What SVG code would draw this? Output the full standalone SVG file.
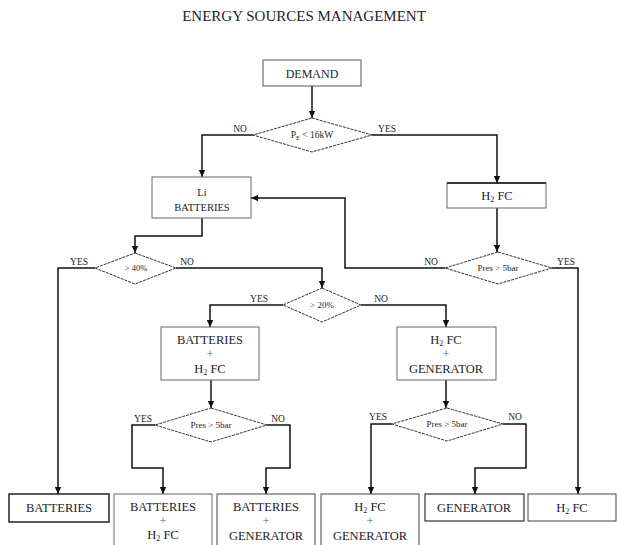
<svg xmlns="http://www.w3.org/2000/svg" width="617" height="545" viewBox="0 0 617 545" font-family="'Liberation Serif','DejaVu Serif',serif">
<style>
text{font-family:'Liberation Serif','DejaVu Serif','Times New Roman',serif;fill:#1c1c2c;text-anchor:middle}
.box{fill:#fff;stroke:#666;stroke-width:1}
.dark{stroke:#222;stroke-width:1.5}
.dia{fill:#fff;stroke:#333;stroke-width:1;stroke-dasharray:3 1}
.con{fill:none;stroke:#111;stroke-width:1.5}
.t{font-size:12.5px}
.s{font-size:10.5px}
.d{font-size:9.5px}
.l{font-size:9.5px}
.p{fill:#667}
</style>
<defs>
<marker id="arr" markerUnits="userSpaceOnUse" markerWidth="8" markerHeight="8" refX="7" refY="4" orient="auto">
<path d="M0,0.8 L7,4 L0,7.2 Z" fill="#111"/>
</marker>
</defs>
<rect width="617" height="545" fill="#fff"/>
<text x="304" y="21" style="font-size:15px">ENERGY SOURCES MANAGEMENT</text>

<g id="connectors">
<path class="con" marker-end="url(#arr)" d="M312,86 V118"/>
<path class="con" marker-end="url(#arr)" d="M253,135 H202 V177"/>
<path class="con" marker-end="url(#arr)" d="M372,135 H497 V183"/>
<path class="con" marker-end="url(#arr)" d="M497,208 V252"/>
<path class="con" marker-end="url(#arr)" d="M445,268 H345 V198 H251"/>
<path class="con" marker-end="url(#arr)" d="M552,268 H578 V494"/>
<path class="con" marker-end="url(#arr)" d="M202,218 V236 H135 V253"/>
<path class="con" marker-end="url(#arr)" d="M95,268 H58 V494"/>
<path class="con" marker-end="url(#arr)" d="M176,268 H322 V288"/>
<path class="con" marker-end="url(#arr)" d="M283,305 H210 V327"/>
<path class="con" marker-end="url(#arr)" d="M361,305 H446 V327"/>
<path class="con" marker-end="url(#arr)" d="M211,380 V408"/>
<path class="con" marker-end="url(#arr)" d="M155,425 H132 V468 H163 V494"/>
<path class="con" marker-end="url(#arr)" d="M267,425 H290 V468 H266 V494"/>
<path class="con" marker-end="url(#arr)" d="M446,380 V408"/>
<path class="con" marker-end="url(#arr)" d="M392,424 H371 V494"/>
<path class="con" marker-end="url(#arr)" d="M503,424 H526 V468 H475 V494"/>
<text class="l" x="240" y="132">NO</text>
<text class="l" x="387" y="132">YES</text>
<text class="l" x="431" y="265">NO</text>
<text class="l" x="566" y="265">YES</text>
<text class="l" x="79" y="265">YES</text>
<text class="l" x="187" y="265">NO</text>
<text class="l" x="259" y="302">YES</text>
<text class="l" x="381" y="302">NO</text>
<text class="l" x="143" y="422">YES</text>
<text class="l" x="278" y="422">NO</text>
<text class="l" x="378" y="420">YES</text>
<text class="l" x="515" y="420">NO</text>
</g>

<g id="demand">
<rect class="box" x="263" y="60" width="98" height="26" style="stroke:#555"/>
<text class="t" x="312" y="78" style="font-size:12px">DEMAND</text>
</g>
<g id="d-power">
<polygon class="dia" points="312,118 372,135 312,152 253,135"/>
<text class="d" x="312" y="138">P<tspan style="font-size:6.5px" dy="2">E</tspan><tspan dy="-2"> &lt; 16kW</tspan></text>
</g>
<g id="li-batteries">
<rect class="box" x="152" y="177" width="99" height="41"/>
<text class="s" x="202" y="196">Li</text>
<text class="s" x="202" y="211">BATTERIES</text>
</g>
<g id="h2fc-top">
<rect class="box" x="447" y="183" width="99" height="25"/>
<line x1="447" y1="183" x2="546" y2="183" stroke="#111" stroke-width="1.5"/>
<text class="t" x="497" y="200">H<tspan style="font-size:8px" dy="2">2</tspan><tspan dy="-2"> FC</tspan></text>
</g>
<g id="d-pres-top">
<polygon class="dia" points="498,252 552,268 498,284 445,268"/>
<text class="d" x="498" y="271" style="font-size:9px">Pres &gt; 5bar</text>
</g>
<g id="d-40">
<polygon class="dia" points="135,253 176,268 135,284 95,268"/>
<text class="d" x="136" y="271" style="font-size:8.5px">&gt; 40%</text>
</g>
<g id="d-20">
<polygon class="dia" points="322,288 361,305 322,322 283,305"/>
<text class="d" x="322" y="308" style="font-size:9px">&gt; 20%</text>
</g>
<g id="batt-h2fc-mid">
<rect class="box" x="161" y="327" width="98" height="53"/>
<text class="t" x="210" y="344">BATTERIES</text>
<text class="t p" x="210" y="358">+</text>
<text class="t" x="210" y="373">H<tspan style="font-size:8px" dy="2">2</tspan><tspan dy="-2"> FC</tspan></text>
</g>
<g id="h2fc-gen-mid">
<rect class="box" x="397" y="327" width="99" height="53"/>
<text class="t" x="446" y="344">H<tspan style="font-size:8px" dy="2">2</tspan><tspan dy="-2"> FC</tspan></text>
<text class="t p" x="446" y="358">+</text>
<text class="t" x="446" y="373">GENERATOR</text>
</g>
<g id="d-pres-left">
<polygon class="dia" points="211,408 267,425 211,442 155,425"/>
<text class="d" x="211" y="428" style="font-size:9px">Pres &gt; 5bar</text>
</g>
<g id="d-pres-right">
<polygon class="dia" points="447,408 503,424 447,441 392,424"/>
<text class="d" x="447" y="427" style="font-size:9px">Pres &gt; 5bar</text>
</g>
<g id="out-batteries">
<rect class="box dark" x="9" y="494" width="100" height="28"/>
<text class="t" x="59" y="512">BATTERIES</text>
</g>
<g id="out-batt-h2fc">
<rect class="box" x="114" y="494" width="98" height="58"/>
<text class="t" x="163" y="511">BATTERIES</text>
<text class="t p" x="163" y="525">+</text>
<text class="t" x="163" y="539">H<tspan style="font-size:8px" dy="2">2</tspan><tspan dy="-2"> FC</tspan></text>
</g>
<g id="out-batt-gen">
<rect class="box" x="217" y="494" width="98" height="58" style="stroke:#444"/>
<text class="t" x="266" y="511">BATTERIES</text>
<text class="t p" x="266" y="525">+</text>
<text class="t" x="266" y="540">GENERATOR</text>
</g>
<g id="out-h2fc-gen">
<rect class="box" x="321" y="494" width="98" height="58" style="stroke:#444"/>
<text class="t" x="370" y="511">H<tspan style="font-size:8px" dy="2">2</tspan><tspan dy="-2"> FC</tspan></text>
<text class="t p" x="370" y="525">+</text>
<text class="t" x="370" y="540">GENERATOR</text>
</g>
<g id="out-generator">
<rect class="box" x="425" y="494" width="99" height="27" style="stroke:#333;stroke-width:1.2"/>
<text class="t" x="474" y="512">GENERATOR</text>
</g>
<g id="out-h2fc">
<rect class="box" x="528" y="494" width="88" height="27" style="stroke:#444"/>
<text class="t" x="572" y="512">H<tspan style="font-size:8px" dy="2">2</tspan><tspan dy="-2"> FC</tspan></text>
</g>
</svg>
